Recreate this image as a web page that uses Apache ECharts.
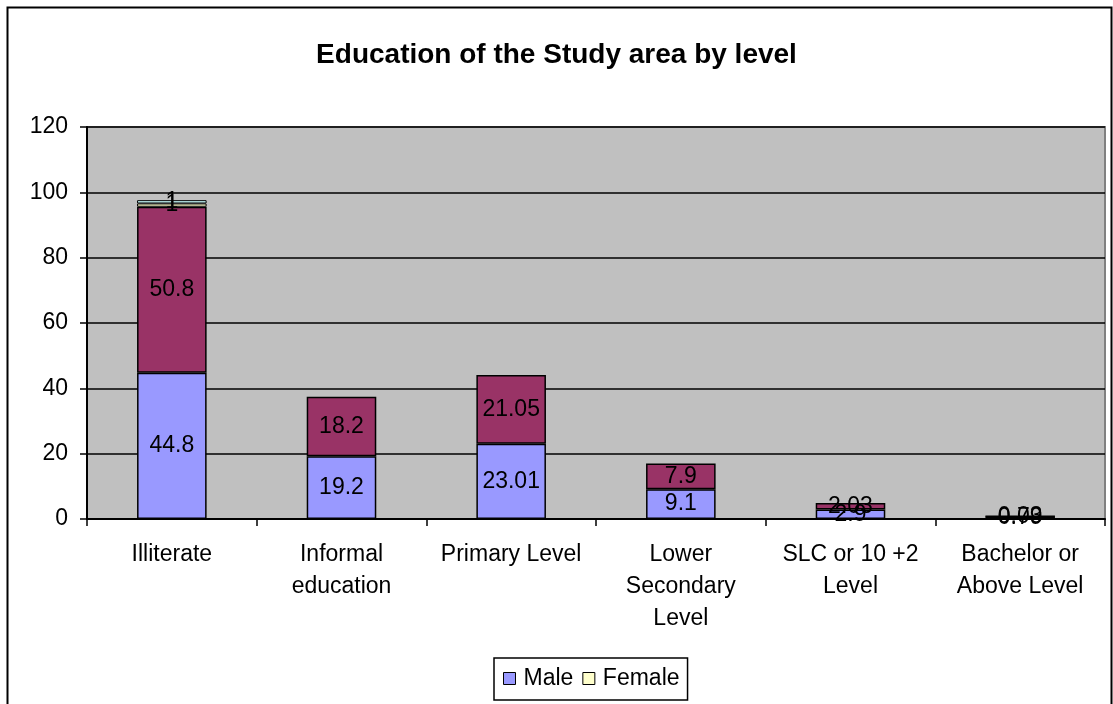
<!DOCTYPE html>
<html><head><meta charset="utf-8">
<script src="https://cdn.jsdelivr.net/npm/echarts@6/dist/echarts.min.js"></script>
<style>html,body{margin:0;padding:0;background:#fff}#c{width:1113px;height:704px}</style>
</head><body><div id="c"></div>
<script>
const categories = ['Illiterate','Informal\neducation','Primary Level','Lower\nSecondary\nLevel','SLC or 10 +2\nLevel','Bachelor or\nAbove Level'];
const maleValues = [44.8, 19.2, 23.01, 9.1, 2.9, 0.79];
const series2Values = [50.8, 18.2, 21.05, 7.9, 2.03, 0.03];
const femaleValues = [1, null, null, null, null, null];
const series4Values = [1, null, null, null, null, null];
const yTicks = [0, 20, 40, 60, 80, 100, 120];

const font = '"Liberation Sans", Arial, sans-serif';
const chart = echarts.init(document.getElementById('c'), null, {renderer:'canvas'});
const lbl = {show:true, position:'inside', color:'#000', fontFamily:font, fontSize:23, formatter: p => p.value == null ? '' : String(p.value)};
function mk(name, data, color, bw){
  return {name, type:'bar', stack:'s', data, barWidth:'41%',
    itemStyle:{color, borderColor:'#000', borderWidth:bw},
    label:lbl, emphasis:{disabled:true}};
}
chart.setOption({
  animation:false,
  title:{text:'Education of the Study area by level', left:'center', top:36,
    textStyle:{fontFamily:font, fontSize:28, fontWeight:'bold', color:'#000'}},
  graphic:[
    {type:'rect', shape:{x:7.5,y:7.5,width:1104,height:720}, style:{fill:null, stroke:'#000', lineWidth:2}, z:-1},
    {type:'rect', shape:{x:87,y:127,width:1018,height:392}, style:{fill:'#C0C0C0', stroke:'#808080', lineWidth:2}, z:-1, silent:true}
  ],
  legend:{data:['Male','Female'], top:658, left:494, itemWidth:12, itemHeight:12, itemGap:9,
    padding:[9,8,10,9], borderColor:'#000', borderWidth:1.5,
    textStyle:{fontFamily:font, fontSize:23, color:'#000', padding:[0,0,0,3]}, icon:'rect',
    itemStyle:{borderColor:'#000', borderWidth:1}},
  grid:{left:87, right:8, top:127, bottom:185, containLabel:false},
  xAxis:{type:'category', data:categories, boundaryGap:true,
    axisLine:{lineStyle:{color:'#000', width:2}},
    axisTick:{show:true, length:7, lineStyle:{color:'#000', width:1.5}, alignWithLabel:false},
    axisLabel:{fontFamily:font, fontSize:23, color:'#000', lineHeight:32, margin:20, interval:0}},
  yAxis:{type:'value', min:yTicks[0], max:yTicks[yTicks.length-1], interval:20,
    axisLine:{show:true, lineStyle:{color:'#000', width:2}},
    axisTick:{show:true, length:7, lineStyle:{color:'#000', width:1.5}},
    axisLabel:{fontFamily:font, fontSize:23, color:'#000', margin:19},
    splitLine:{show:true, lineStyle:{color:'#000', width:1.5}}},
  series:[
    mk('Male', maleValues, '#9999FF', 1.5),
    mk('Series 2', series2Values, '#993366', 1.5),
    mk('Female', femaleValues, '#FFFFCC', 1),
    mk('Series 4', series4Values, '#CCFFFF', 1)
  ]
});
</script></body></html>
